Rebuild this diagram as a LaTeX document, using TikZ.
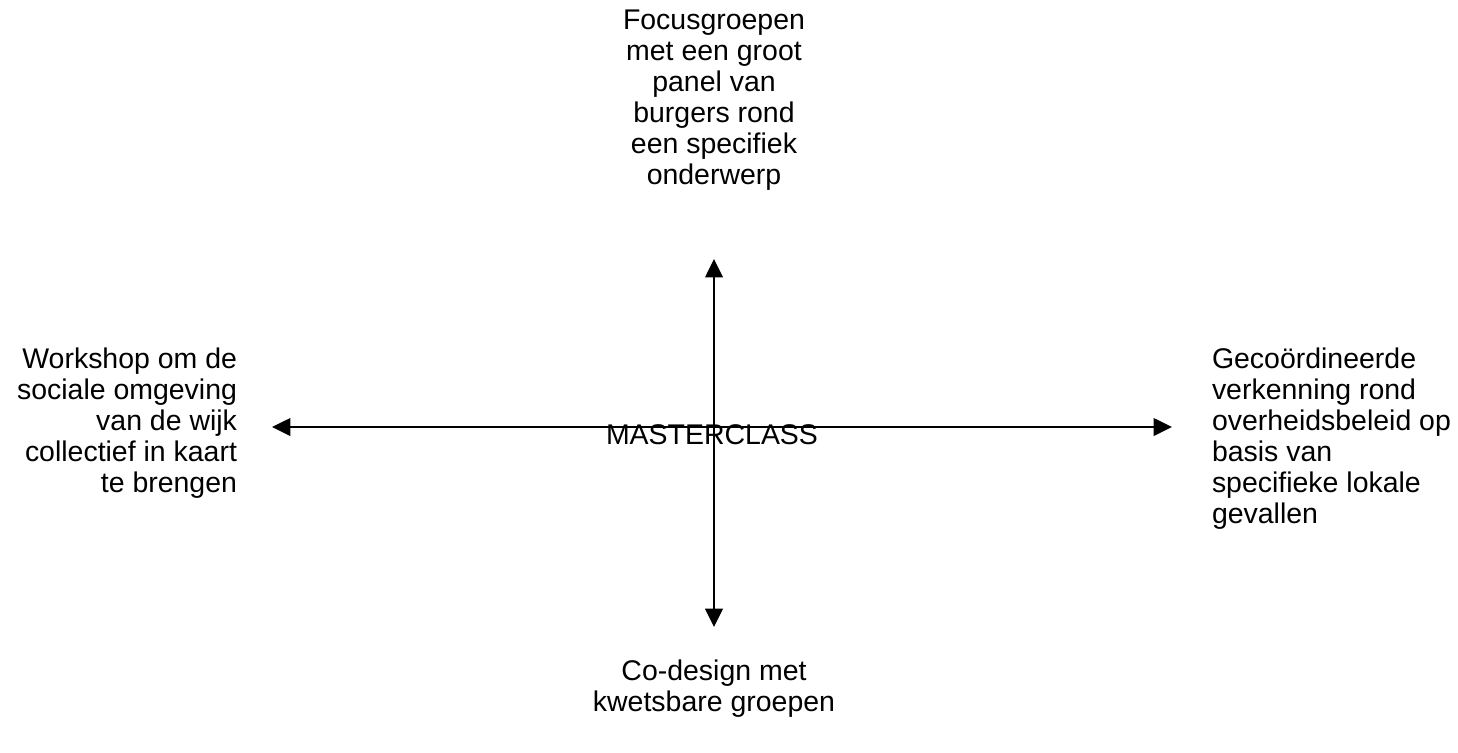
\documentclass[tikz,border=0pt]{standalone}
\usepackage{fontspec}
\setmainfont{Liberation Sans}
\usetikzlibrary{arrows.meta}
\begin{document}
\begin{tikzpicture}[x=0.02cm,y=-0.02cm,inner sep=0pt,outer sep=0pt,line width=1.3pt,
>={Triangle[length=10.5pt,width=10pt]},
lbl/.style={font=\fontsize{16.2}{17.6}\selectfont}]
\useasboundingbox (0,0) rectangle (1458,752);
\draw (714,10) node[lbl,anchor=north,align=center] (focus) {Focusgroepen\\met een groot\\panel van\\burgers rond\\een specifiek\\onderwerp};
\draw (237,348) node[lbl,anchor=north east,align=right] (workshop) {Workshop om de\\sociale omgeving\\van de wijk\\collectief in kaart\\te brengen};
\draw (1212,348) node[lbl,anchor=north west,align=left] (verkenning) {Gecoördineerde\\verkenning rond\\overheidsbeleid op\\basis van\\specifieke lokale\\gevallen};
\draw (714,660) node[lbl,anchor=north,align=center] (codesign) {Co-design met\\kwetsbare groepen};
\draw (712,435) node[lbl] (master) {MASTERCLASS};
\coordinate (west) at (272,427);
\coordinate (east) at (1172,427);
\coordinate (north) at (714,259);
\coordinate (south) at (714,627);
\draw[<->] (west) -- (east);
\draw[<->] (north) -- (south);
\end{tikzpicture}
\end{document}
